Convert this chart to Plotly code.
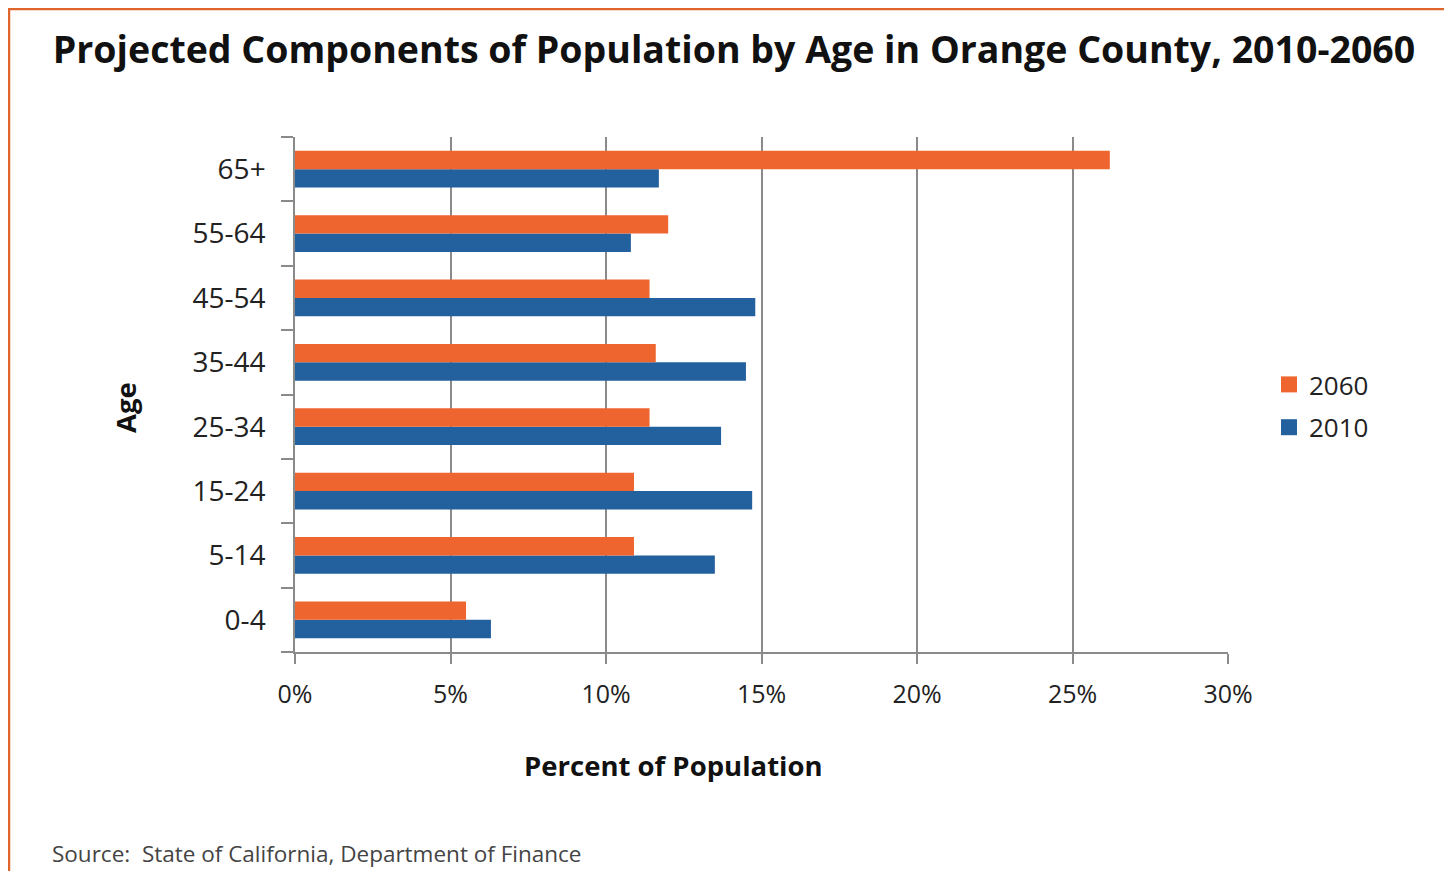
import plotly.graph_objects as go

ages = ["0-4", "5-14", "15-24", "25-34", "35-44", "45-54", "55-64", "65+"]
pct_2010 = [6.3, 13.5, 14.7, 13.7, 14.5, 14.8, 10.8, 11.7]
pct_2060 = [5.5, 10.9, 10.9, 11.4, 11.6, 11.4, 12.0, 26.2]
x_ticks = [0, 5, 10, 15, 20, 25, 30]
x_tick_text = [f"{v}%" for v in x_ticks]

FONT = "Open Sans"
ORANGE = "#EE652F"
BLUE = "#23609E"
GRID = "#8a8a8a"

# page is rendered with an 8px body margin -> work in page px minus 8
OFF = 8
W, H = 1452 - OFF, 871 - OFF
L, R, T, B = 295 - OFF, 1452 - 1228, 137 - OFF, 871 - 652
pw, ph = W - L - R, H - T - B


def px_x(p):
    return (p - OFF - L) / pw


def px_y(p):
    return (H - B - (p - OFF)) / ph


fig = go.Figure()
fig.add_trace(go.Bar(y=ages, x=pct_2010, name="2010", orientation="h", showlegend=False,
                     marker=dict(color=BLUE, line=dict(width=0))))
fig.add_trace(go.Bar(y=ages, x=pct_2060, name="2060", orientation="h", showlegend=False,
                     marker=dict(color=ORANGE, line=dict(width=0))))
# legend entries with larger square symbols (2060 listed first)
fig.add_trace(go.Scatter(x=[None], y=[None], mode="markers", name="2060", legendgroup="a",
                         marker=dict(symbol="square", size=18, color=ORANGE)))
fig.add_trace(go.Scatter(x=[None], y=[None], mode="markers", name="2010", legendgroup="b",
                         marker=dict(symbol="square", size=18, color=BLUE)))

fig.update_layout(
    width=W, height=H,
    margin=dict(l=L, r=R, t=T, b=B),
    paper_bgcolor="white", plot_bgcolor="white",
    barmode="group", bargap=0.43, bargroupgap=0.0,
    font=dict(family=FONT, color="#222222"),
    title=dict(text="<b>Projected Components of Population by Age in Orange County, 2010-2060</b>",
               x=px_x(734), xref="paper", xanchor="center",
               y=1 - (50 - OFF) / H, yref="container", yanchor="middle",
               font=dict(size=37.5, color="#111111", family=FONT)),
    legend=dict(x=px_x(1269), y=px_y(361), xanchor="left", yanchor="top",
                traceorder="grouped", font=dict(size=26, color="#222222"),
                itemwidth=30, tracegroupgap=6, bgcolor="rgba(0,0,0,0)"),
    xaxis=dict(range=[0, 30], tickvals=x_ticks, ticktext=x_tick_text,
               showgrid=True, gridcolor=GRID, gridwidth=1.5,
               showline=True, linecolor=GRID, linewidth=1.5,
               ticks="outside", ticklen=10, tickcolor=GRID, tickwidth=1.5,
               ticklabelstandoff=9,
               tickfont=dict(size=25, color="#222222"), zeroline=False),
    yaxis=dict(showline=True, linecolor=GRID, linewidth=1.5,
               ticks="outside", tickson="boundaries", ticklen=12, tickcolor=GRID, tickwidth=1.5,
               ticklabelstandoff=22,
               tickfont=dict(size=28, color="#222222"), showgrid=False),
    shapes=[
        dict(type="line", xref="paper", yref="paper", x0=px_x(8), x1=px_x(1470),
             y0=px_y(9), y1=px_y(9), line=dict(color="#E0652A", width=2.5)),
        dict(type="line", xref="paper", yref="paper", x0=px_x(9), x1=px_x(9),
             y0=px_y(8), y1=px_y(900), line=dict(color="#E0652A", width=2.5)),
    ],
    annotations=[
        dict(text="<b>Percent of Population</b>", xref="paper", yref="paper",
             x=px_x(673), y=px_y(765), xanchor="center", yanchor="middle", showarrow=False,
             font=dict(size=27.5, color="#111111", family=FONT)),
        dict(text="<b>Age</b>", xref="paper", yref="paper", textangle=-90,
             x=px_x(125), y=px_y(408), xanchor="center", yanchor="middle", showarrow=False,
             font=dict(size=27.5, color="#111111", family=FONT)),
        dict(text="Source:  State of California, Department of Finance",
             xref="paper", yref="paper", x=px_x(50), y=px_y(853),
             xanchor="left", yanchor="middle", showarrow=False,
             font=dict(size=22.5, color="#444444", family=FONT)),
    ],
)

fig.write_html("out.html")
